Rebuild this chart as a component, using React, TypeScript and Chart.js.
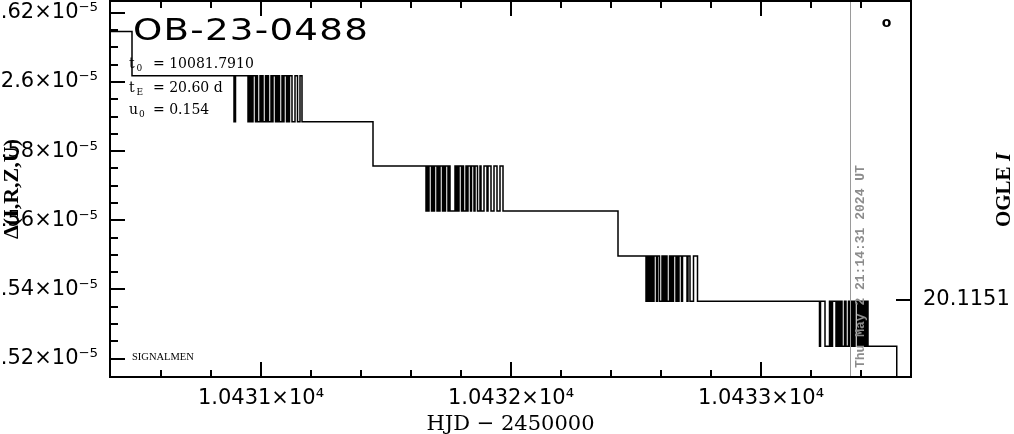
import React, { useEffect, useRef } from 'react';
import { Chart, registerables } from 'chart.js';

Chart.register(...registerables);

// ---------------- data ----------------
// flux levels of the staircase (Δ flux units)
const fluxLevels = [1.61458e-5, 1.60183e-5, 1.58849e-5, 1.57574e-5, 1.5627e-5, 1.54965e-5, 1.53661e-5, 1.52357e-5, 1.51052e-5];

// plain steps: HJD where a new level starts, and the level index
const stepHjd = [10430.3, 10430.484, 10431.448, 10432.428, 10433.543, 10433.7];
const stepLevel = [0, 1, 3, 5, 8, 8];

// dense flicker bursts: HJD of each jump between an upper and a lower level
const burst1Hjd = [10430.892, 10430.898, 10430.948, 10430.952, 10430.956, 10430.96, 10430.964, 10430.968, 10430.978, 10430.982, 10430.986, 10430.996, 10431.0, 10431.004, 10431.008, 10431.018, 10431.022, 10431.026, 10431.03, 10431.04, 10431.044, 10431.048, 10431.058, 10431.062, 10431.066, 10431.07, 10431.074, 10431.084, 10431.088, 10431.092, 10431.102, 10431.106, 10431.11, 10431.114, 10431.124, 10431.136, 10431.146, 10431.156, 10431.164];
const burst2Hjd = [10431.66, 10431.664, 10431.668, 10431.672, 10431.682, 10431.686, 10431.69, 10431.694, 10431.704, 10431.708, 10431.712, 10431.716, 10431.726, 10431.73, 10431.734, 10431.738, 10431.748, 10431.752, 10431.756, 10431.776, 10431.78, 10431.784, 10431.788, 10431.792, 10431.802, 10431.806, 10431.81, 10431.82, 10431.824, 10431.828, 10431.838, 10431.842, 10431.852, 10431.856, 10431.866, 10431.876, 10431.88, 10431.892, 10431.904, 10431.908, 10431.92, 10431.932, 10431.944, 10431.956, 10431.968];
const burst3Hjd = [10432.54, 10432.546, 10432.55, 10432.556, 10432.56, 10432.564, 10432.568, 10432.572, 10432.582, 10432.586, 10432.594, 10432.604, 10432.608, 10432.612, 10432.616, 10432.62, 10432.624, 10432.634, 10432.638, 10432.642, 10432.646, 10432.65, 10432.66, 10432.664, 10432.668, 10432.672, 10432.682, 10432.686, 10432.704, 10432.708, 10432.716, 10432.73, 10432.746];
const burst4Hjd = [10433.234, 10433.238, 10433.256, 10433.274, 10433.28, 10433.286, 10433.3, 10433.304, 10433.308, 10433.312, 10433.316, 10433.32, 10433.324, 10433.334, 10433.34, 10433.35, 10433.356, 10433.36, 10433.364, 10433.368, 10433.372, 10433.376, 10433.386, 10433.39, 10433.394, 10433.398, 10433.402, 10433.406, 10433.41, 10433.414, 10433.418, 10433.422, 10433.428];
const burstUpper = [1, 3, 5, 6];
const burstLower = [2, 4, 6, 7];

// axes
const xMin = 10430.396;
const xMax = 10433.6;
const xTickValues = [10431, 10432, 10433];
const xTickLabels = ['1.0431×10⁴', '1.0432×10⁴', '1.0433×10⁴'];
const xMinorTicks = [10430.6, 10430.8, 10431.2, 10431.4, 10431.6, 10431.8, 10432.2, 10432.4, 10432.6, 10432.8, 10433.2, 10433.4];

const yMin = 1.514677e-5;
const yMax = 1.623427e-5;
const yTickValues = [1.52e-5, 1.54e-5, 1.56e-5, 1.58e-5, 1.6e-5, 1.62e-5];
const yTickLabels = ['1.52×10⁻⁵', '1.54×10⁻⁵', '1.56×10⁻⁵', '1.58×10⁻⁵', '2.6×10⁻⁵', '1.62×10⁻⁵'];
const yMinorTicks = [1.525e-5, 1.53e-5, 1.535e-5, 1.545e-5, 1.55e-5, 1.555e-5, 1.565e-5, 1.57e-5, 1.575e-5, 1.585e-5, 1.59e-5, 1.595e-5, 1.605e-5, 1.61e-5, 1.615e-5];

const magMin = 20.055;
const magMax = 20.1306;
const magTickValues = [20.1151];
const magTickLabels = ['20.1151'];

const nowHjd = 10433.357;
const nowText = 'Thu May 2 21:14:31 2024 UT';
const eventName = 'OB-23-0488';
const paramSym = ['t', 't', 'u'];
const paramSub = ['0', 'E', '0'];
const paramVal = ['= 10081.7910', '= 20.60 d', '= 0.154'];
const xTitle = 'HJD − 2450000';
const yTitle = 'Δ(I,R,Z,U)';
const y2TitleA = 'OGLE ';
const y2TitleB = 'I';
const footText = 'SIGNALMEN';

function buildPoints() {
  const pts: { x: number; y: number }[] = [];
  stepHjd.forEach((x, i) => pts.push({ x, y: fluxLevels[stepLevel[i]] }));
  [burst1Hjd, burst2Hjd, burst3Hjd, burst4Hjd].forEach((arr, b) => {
    arr.forEach((x, k) => pts.push({ x, y: fluxLevels[k % 2 === 0 ? burstLower[b] : burstUpper[b]] }));
  });
  pts.sort((a, b) => a.x - b.x);
  return pts;
}

function labelFor(values: number[], labels: string[], v: number, tol: number) {
  const i = values.findIndex((t) => Math.abs(t - v) < tol);
  return i >= 0 ? labels[i] : '';
}

const decorPlugin = {
  id: 'decor',
  afterDatasetsDraw(chart: any) {
    const { ctx, chartArea: a, scales } = chart;
    const sx = scales.x;
    const sy = scales.y;
    const sy2 = scales.y2;

    // "now" line and time stamp
    const nx = sx.getPixelForValue(nowHjd);
    ctx.save();
    ctx.strokeStyle = '#9a9a9a';
    ctx.lineWidth = 1;
    ctx.beginPath();
    ctx.moveTo(Math.round(nx) + 0.5, a.top);
    ctx.lineTo(Math.round(nx) + 0.5, a.bottom);
    ctx.stroke();
    ctx.translate(nx + 10, a.bottom - 9);
    ctx.rotate(-Math.PI / 2);
    ctx.font = 'bold 13px "Liberation Mono"';
    ctx.fillStyle = '#8c8c8c';
    ctx.textAlign = 'left';
    ctx.textBaseline = 'middle';
    ctx.fillText(nowText, 0, 0);
    ctx.restore();

    // frame
    ctx.save();
    ctx.strokeStyle = '#000';
    ctx.lineWidth = 2;
    ctx.strokeRect(a.left, a.top, a.right - a.left, a.bottom - a.top);

    // ticks (inward)
    ctx.beginPath();
    xTickValues.forEach((v) => {
      const p = Math.round(sx.getPixelForValue(v));
      ctx.moveTo(p, a.bottom); ctx.lineTo(p, a.bottom - 15);
      ctx.moveTo(p, a.top); ctx.lineTo(p, a.top + 15);
    });
    xMinorTicks.forEach((v) => {
      const p = Math.round(sx.getPixelForValue(v));
      ctx.moveTo(p, a.bottom); ctx.lineTo(p, a.bottom - 7);
      ctx.moveTo(p, a.top); ctx.lineTo(p, a.top + 7);
    });
    yTickValues.forEach((v) => {
      const p = Math.round(sy.getPixelForValue(v));
      ctx.moveTo(a.left, p); ctx.lineTo(a.left + 15, p);
    });
    yMinorTicks.forEach((v) => {
      const p = Math.round(sy.getPixelForValue(v));
      ctx.moveTo(a.left, p); ctx.lineTo(a.left + 8, p);
    });
    magTickValues.forEach((v) => {
      const p = Math.round(sy2.getPixelForValue(v));
      ctx.moveTo(a.right, p); ctx.lineTo(a.right - 15, p);
    });
    ctx.stroke();

    // texts
    ctx.fillStyle = '#000';
    ctx.textAlign = 'left';
    ctx.textBaseline = 'alphabetic';
    ctx.save();
    ctx.translate(133, 40);
    ctx.scale(1.24, 1);
    ctx.font = '30px "DejaVu Sans"';
    (ctx as any).letterSpacing = '1px';
    ctx.fillText(eventName, 0, 0);
    (ctx as any).letterSpacing = '0px';
    ctx.restore();

    const baselines = [67.5, 91.5, 113.5];
    paramSym.forEach((s, i) => {
      const by = baselines[i];
      ctx.font = '14px "DejaVu Serif"';
      ctx.fillText(s, 129, by);
      ctx.font = '9px "DejaVu Serif"';
      ctx.fillText(paramSub[i], s === 'u' ? 139 : 136.5, by + 3.5);
      ctx.font = '14px "DejaVu Serif"';
      ctx.fillText(paramVal[i], 153, by);
    });

    ctx.font = '10.5px "Liberation Serif"';
    ctx.fillText(footText, 132, 360);

    ctx.font = 'bold 14px "DejaVu Sans"';
    ctx.textAlign = 'center';
    ctx.fillText('o', 886.5, 27);

    // right title
    ctx.translate(1005, 190);
    ctx.rotate(-Math.PI / 2);
    ctx.textAlign = 'left';
    ctx.textBaseline = 'middle';
    ctx.font = 'bold 21px "Liberation Serif"';
    const wa = ctx.measureText(y2TitleA).width;
    ctx.font = 'italic bold 21px "Liberation Serif"';
    const wb = ctx.measureText(y2TitleB).width;
    const start = -(wa + wb) / 2;
    ctx.font = 'bold 21px "Liberation Serif"';
    ctx.fillText(y2TitleA, start, 0);
    ctx.font = 'italic bold 21px "Liberation Serif"';
    ctx.fillText(y2TitleB, start + wa, 0);
    ctx.restore();
  },
};

export default function App() {
  const ref = useRef<HTMLCanvasElement>(null);
  useEffect(() => {
    document.body.style.margin = '0';
    const canvas = ref.current!;
    const tickFont = { family: 'DejaVu Sans', size: 21 };
    const chart = new Chart(canvas, {
      type: 'line',
      data: {
        datasets: [
          {
            data: buildPoints(),
            stepped: true,
            borderColor: '#000',
            borderWidth: 1.5,
            pointRadius: 0,
            fill: false,
            xAxisID: 'x',
            yAxisID: 'y',
          },
        ],
      },
      options: {
        animation: false,
        responsive: false,
        devicePixelRatio: 1,
        events: [],
        layout: { padding: { top: 1, left: 0, right: 0, bottom: 0 } },
        plugins: { legend: { display: false }, tooltip: { enabled: false } },
        scales: {
          x: {
            type: 'linear',
            position: 'bottom',
            min: xMin,
            max: xMax,
            grid: { display: false, drawTicks: false },
            border: { display: false },
            ticks: {
              autoSkip: false,
              maxRotation: 0,
              minRotation: 0,
              padding: 9,
              color: '#000',
              font: tickFont,
              callback: (v: any) => labelFor(xTickValues, xTickLabels, Number(v), 1e-6),
            },
            afterBuildTicks: (s: any) => {
              s.ticks = xTickValues.map((value) => ({ value }));
            },
            afterFit: (s: any) => {
              s.height = 57;
              s.paddingLeft = 0;
              s.paddingRight = 0;
            },
            title: {
              display: true,
              text: xTitle,
              color: '#000',
              font: { family: 'DejaVu Serif', size: 21, lineHeight: 0.857 },
              padding: 0,
            },
          },
          y: {
            type: 'linear',
            position: 'left',
            min: yMin,
            max: yMax,
            grid: { display: false, drawTicks: false },
            border: { display: false },
            ticks: {
              autoSkip: false,
              padding: 12,
              color: '#000',
              font: tickFont,
              callback: (v: any) => labelFor(yTickValues, yTickLabels, Number(v), 1e-10),
            },
            afterBuildTicks: (s: any) => {
              s.ticks = yTickValues.map((value) => ({ value }));
            },
            afterFit: (s: any) => {
              s.width = 110;
              s.paddingTop = 0;
              s.paddingBottom = 0;
            },
            title: {
              display: true,
              text: yTitle,
              color: '#000',
              font: { family: 'Liberation Serif', size: 22, weight: 'bold', lineHeight: 1 },
              padding: { top: 1, bottom: 0 },
            },
          },
          y2: {
            type: 'linear',
            position: 'right',
            reverse: true,
            min: magMin,
            max: magMax,
            grid: { display: false, drawTicks: false },
            border: { display: false },
            ticks: {
              autoSkip: false,
              padding: 12,
              color: '#000',
              font: tickFont,
              callback: (v: any) => labelFor(magTickValues, magTickLabels, Number(v), 1e-6),
            },
            afterBuildTicks: (s: any) => {
              s.ticks = magTickValues.map((value) => ({ value }));
            },
            afterFit: (s: any) => {
              s.width = 103;
              s.paddingTop = 0;
              s.paddingBottom = 0;
            },
          },
        },
      } as any,
      plugins: [decorPlugin],
    });
    return () => chart.destroy();
  }, []);
  return (
    <canvas
      ref={ref}
      width={1014}
      height={434}
      style={{ position: 'fixed', left: 0, top: 0, width: 1014, height: 434, display: 'block' }}
    />
  );
}
